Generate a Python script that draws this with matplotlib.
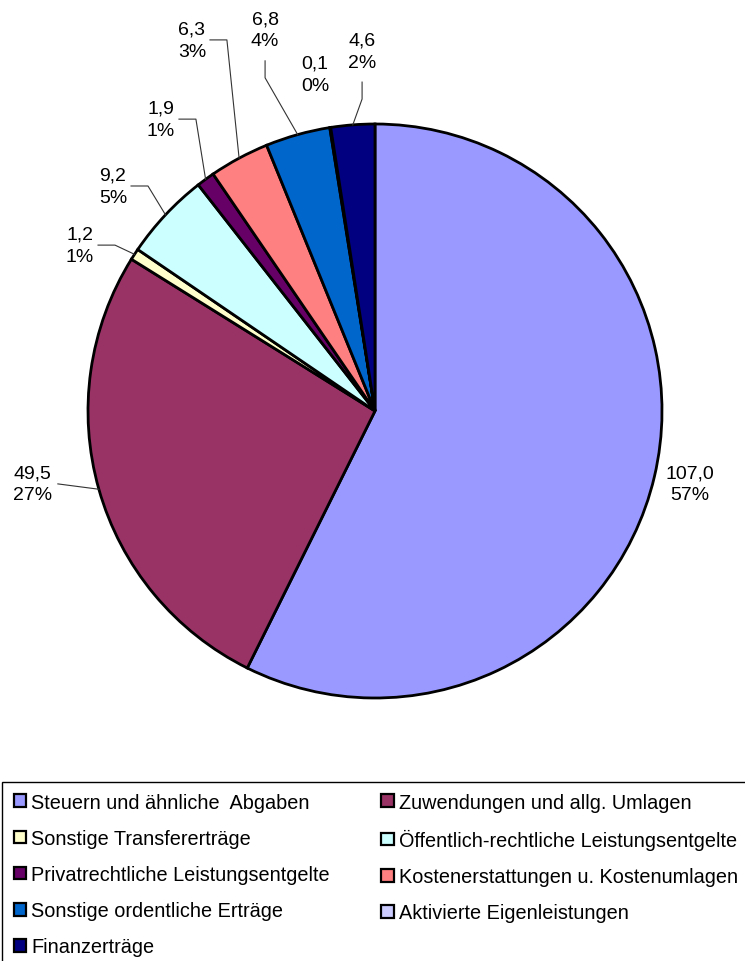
import numpy as np
import matplotlib
matplotlib.use("Agg")
import matplotlib.pyplot as plt
from matplotlib.patches import Patch, Rectangle

plt.rcParams['font.family'] = ['Liberation Sans', 'DejaVu Sans']

categories = [
    "Steuern und ähnliche  Abgaben",
    "Zuwendungen und allg. Umlagen",
    "Sonstige Transfererträge",
    "Öffentlich-rechtliche Leistungsentgelte",
    "Privatrechtliche Leistungsentgelte",
    "Kostenerstattungen u. Kostenumlagen",
    "Sonstige ordentliche Erträge",
    "Aktivierte Eigenleistungen",
    "Finanzerträge",
]
values = [107.0, 49.5, 1.2, 9.2, 1.9, 6.3, 6.8, 0.1, 4.6]
colors = ["#9999FF", "#993366", "#FFFFCC", "#CCFFFF", "#660066",
          "#FF8080", "#0066CC", "#CCCCFF", "#000080"]

# label layout (in units of pie radius, relative to centre) and leader style
label_pos = [(1.098, -0.254), (-1.192, -0.254), (-1.028, 0.578), (-0.913, 0.784),
             (-0.746, 1.017), (-0.638, 1.293), (-0.383, 1.328), (-0.209, 1.174),
             (-0.045, 1.254)]
leader = ["none", "direct", "side", "side", "side", "side", "top", "none", "top"]

W, H = 745, 962
CX, CY, R = 375, 412, 287
fig = plt.figure(figsize=(W / 100, H / 100), dpi=100)
ax = fig.add_axes([0, 0, 1, 1])

wedges, _ = ax.pie(values, colors=colors, startangle=90, counterclock=False,
                   radius=1.0, center=(0, 0), frame=True,
                   wedgeprops=dict(edgecolor="black", linewidth=2.0))
ax.set_xlim(-CX / R, (W - CX) / R)
ax.set_ylim((CY - H) / R, CY / R)
ax.set_aspect("auto")
ax.axis("off")

total = sum(values)
fs = 14
for w, v, (lx, ly), ld in zip(wedges, values, label_pos, leader):
    pct = round(v / total * 100)
    txt = f"{v:.1f}".replace(".", ",") + f"\n{pct}%"
    ax.text(lx, ly, txt, ha="center", va="center", fontsize=fs,
            multialignment="center", linespacing=1.4, color="black")
    mid = np.deg2rad((w.theta1 + w.theta2) / 2)
    px, py = np.cos(mid), np.sin(mid)
    lc = dict(color="#333333", lw=0.8)
    if ld == "side":
        ax.plot([lx + 0.063, lx + 0.122, px], [ly, ly, py], **lc)
    elif ld == "top":
        ax.plot([lx, lx, px], [ly - 0.108, ly - 0.167, py], **lc)
    elif ld == "direct":
        ax.plot([lx + 0.087, px], [ly, py], **lc)

# legend frame (extends past figure edges as in the reference)
fig.patches.append(Rectangle((2 / W, -0.05), 1.1, 1 - 783 / H + 0.05,
                             transform=fig.transFigure, fill=False,
                             edgecolor="black", linewidth=1.0))

order = [0, 2, 4, 6, 8, 1, 3, 5, 7]
handles = [Patch(facecolor=colors[i], edgecolor="black", linewidth=1.6) for i in order]
labels = [categories[i] for i in order]
fig.legend(handles, labels, ncol=2, loc="upper left",
           bbox_to_anchor=(-2 / W, 1 - 778 / H), frameon=False,
           fontsize=14.3, handlelength=0.62, handleheight=0.62, handletextpad=0.25,
           labelspacing=0.86, columnspacing=2.6, borderpad=0.3)

fig.savefig("out.png", dpi=100)
